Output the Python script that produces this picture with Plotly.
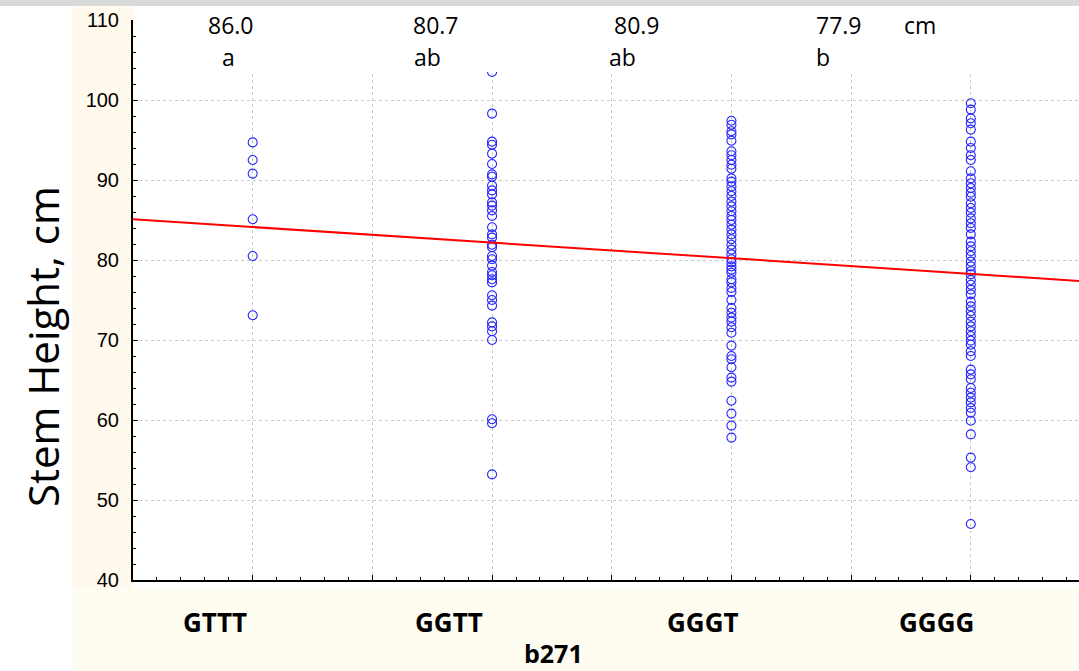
import plotly.graph_objects as go

# ---------------- data ----------------
categories = ["GTTT", "GGTT", "GGGT", "GGGG"]

gttt = [94.7, 92.5, 90.8, 85.1, 80.5, 73.1]

ggtt = [103.5, 98.3, 94.8, 94.4, 93.3, 92.0, 90.7, 90.4, 89.3, 88.7, 88.2,
        87.2, 86.8, 86.2, 85.5, 84.1, 83.2, 82.8, 81.9, 81.6, 80.5, 80.1,
        79.3, 78.5, 78.1, 77.6, 77.2, 75.6, 75.0, 74.3, 72.2, 71.7, 71.1,
        70.0, 60.1, 59.6, 53.2]

gggt = [97.4, 96.9, 96.1, 95.7, 94.9, 93.6, 93.1, 92.5, 91.9, 91.4, 90.2,
        89.8, 89.2, 88.6, 88.0, 87.3, 86.7, 86.1, 85.5, 85.0, 84.4, 83.8,
        83.2, 82.6, 81.9, 81.3, 80.7, 80.1, 79.7, 79.2, 78.8, 78.4, 77.6,
        77.2, 76.5, 76.0, 75.0, 74.0, 73.4, 72.8, 72.3, 71.6, 70.9, 69.3,
        68.0, 67.6, 66.6, 65.3, 64.8, 62.4, 60.8, 59.3, 57.8]

gggg = [99.6, 98.8, 97.7, 97.1, 96.3, 94.8, 94.0, 93.1, 92.5, 91.1, 90.2,
        89.6, 89.0, 88.4, 87.9, 87.1, 86.5, 85.9, 85.2, 84.6, 84.0, 83.2,
        82.3, 81.7, 81.1, 80.5, 79.8, 79.2, 78.6, 78.2, 77.5, 76.9, 76.3,
        75.7, 74.8, 74.2, 73.6, 73.0, 72.3, 71.7, 71.1, 70.5, 69.9, 69.4,
        68.6, 68.0, 66.3, 65.7, 65.1, 64.0, 63.4, 62.8, 62.2, 61.5, 60.9,
        59.9, 58.2, 55.3, 54.1, 47.0]

group_values = [gttt, ggtt, gggt, gggg]
mean_labels = ["86.0", "80.7", "80.9", "77.9"]
group_letters = ["a", "ab", "ab", "b"]
unit_label = "cm"

fit_intercept = 86.07
fit_slope = -1.95

x_title = "b271"
y_title = "Stem Height, cm"

# ---------------- layout helpers ----------------
W, H = 1079, 671
ML, MR, MT, MB = 133, 0, 20, 91
PW, PH = W - ML - MR, H - MT - MB


def fx(px):
    return (px - ML) / PW


def fy(py):
    return (H - MB - py) / PH


x_range = [0.5, 4.452]

fig = go.Figure()

for i, vals in enumerate(group_values):
    fig.add_trace(go.Scatter(
        x=[i + 1] * len(vals), y=vals, mode="markers",
        marker=dict(symbol="circle-open", size=9, color="#2424ff",
                    line=dict(width=1.1, color="#2424ff")),
        hoverinfo="y", showlegend=False))

fig.add_trace(go.Scatter(
    x=x_range, y=[fit_intercept + fit_slope * v for v in x_range],
    mode="lines", line=dict(color="#ff0000", width=2), showlegend=False))

shapes = [
    # top grey band
    dict(type="rect", xref="paper", yref="paper", x0=fx(0), x1=fx(W),
         y0=fy(6), y1=fy(0), fillcolor="#d9d9d9", line_width=0, layer="below"),
    # cream left strip
    dict(type="rect", xref="paper", yref="paper", x0=fx(72), x1=fx(134),
         y0=fy(H), y1=fy(6), fillcolor="#fff9ee", line_width=0, layer="below"),
    # cream bottom strip
    dict(type="rect", xref="paper", yref="paper", x0=fx(72), x1=fx(W),
         y0=fy(H), y1=fy(588), fillcolor="#fffdf2", line_width=0, layer="below"),
    # white cover for the header text region
    dict(type="rect", xref="paper", yref="paper", x0=fx(139), x1=fx(W),
         y0=fy(72), y1=fy(6), fillcolor="white", line_width=0, layer="above"),
]

annotations = []
top_font = dict(family="Open Sans", size=23, color="black")
mean_px = [231, 436, 637, 839]
letter_px = [228, 427, 622, 823]
for i in range(4):
    annotations.append(dict(text=mean_labels[i], xref="paper", yref="paper",
                            x=fx(mean_px[i]), y=fy(25), showarrow=False,
                            xanchor="center", yanchor="middle", font=top_font))
    annotations.append(dict(text=group_letters[i], xref="paper", yref="paper",
                            x=fx(letter_px[i]), y=fy(57), showarrow=False,
                            xanchor="center", yanchor="middle", font=top_font))
annotations.append(dict(text=unit_label, xref="paper", yref="paper",
                        x=fx(920), y=fy(25), showarrow=False,
                        xanchor="center", yanchor="middle", font=top_font))

cat_px = [215, 449, 703, 936]
cat_font = dict(family="Open Sans", size=26, color="black")
for i, c in enumerate(categories):
    annotations.append(dict(text="<b>%s</b>" % c, xref="paper", yref="paper",
                            x=fx(cat_px[i]), y=fy(622), showarrow=False,
                            xanchor="center", yanchor="middle", font=cat_font))
annotations.append(dict(text="<b>%s</b>" % x_title, xref="paper", yref="paper",
                        x=fx(553), y=fy(653), showarrow=False,
                        xanchor="center", yanchor="middle",
                        font=dict(family="Open Sans", size=25, color="black")))
annotations.append(dict(text=y_title, xref="paper", yref="paper",
                        x=fx(43), y=fy(347), showarrow=False, textangle=-90,
                        xanchor="center", yanchor="middle",
                        font=dict(family="Open Sans", size=42, color="black")))

grid_color = "#c8c8c8"
fig.update_layout(
    width=W, height=H, margin=dict(l=ML, r=MR, t=MT, b=MB, pad=0),
    paper_bgcolor="white", plot_bgcolor="white", showlegend=False,
    shapes=shapes, annotations=annotations,
    xaxis=dict(range=x_range, showline=True, linecolor="black", linewidth=2,
               ticks="inside", ticklen=5, tickwidth=1, tickcolor="black",
               tickmode="linear", tick0=0.5, dtick=0.5, showticklabels=False,
               showgrid=True, gridcolor=grid_color, gridwidth=1,
               griddash="3px,3px", zeroline=False,
               minor=dict(ticks="inside", ticklen=3, tickwidth=1,
                          tickcolor="black", tick0=0.5, dtick=0.1,
                          showgrid=False)),
    yaxis=dict(range=[40, 110], showline=True, linecolor="black", linewidth=2,
               ticks="inside", ticklen=5, tickwidth=1, tickcolor="black",
               tickmode="linear", tick0=40, dtick=10,
               tickfont=dict(family="Liberation Sans", size=20, color="black"),
               ticklabelstandoff=8,
               showgrid=True, gridcolor=grid_color, gridwidth=1,
               griddash="3px,3px", zeroline=False,
               minor=dict(ticks="inside", ticklen=3, tickwidth=1,
                          tickcolor="black", tick0=40, dtick=2,
                          showgrid=False)),
)

fig.write_html("out.html")
